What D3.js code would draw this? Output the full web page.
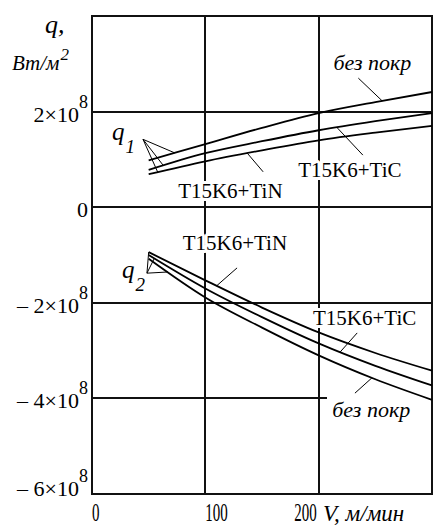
<!DOCTYPE html>
<html>
<head>
<script src="https://cdn.jsdelivr.net/npm/d3@7"></script>
</head>
<body style="margin:0">
<script>
// cutting speed V, m/min
const speeds = [50, 100, 150, 200, 250, 300];

// heat flux q, in units of 10^8 W/m^2
const q1BezPokr = [0.98, 1.32, 1.66, 1.97, 2.20, 2.41];
const q1TiC     = [0.78, 1.13, 1.38, 1.61, 1.80, 1.97];
const q1TiN     = [0.69, 0.96, 1.19, 1.40, 1.56, 1.70];

const q2TiN     = [-0.94, -1.53, -2.10, -2.62, -3.05, -3.42];
const q2TiC     = [-1.00, -1.70, -2.30, -2.85, -3.32, -3.73];
const q2BezPokr = [-1.08, -1.89, -2.52, -3.10, -3.60, -4.03];

const xTicks = [0, 100, 200];
const yTicks = [2, 0, -2, -4, -6];
const yTickText = ["2×10", "0", "– 2×10", "– 4×10", "– 6×10"];

const FONT = "'Liberation Serif'";

function drawChart() {
    const width = 439;
    const height = 527;

    const x = d3.scaleLinear().domain([0, 300]).range([92, 432]);
    const y = d3.scaleLinear().domain([-6, 4]).range([494, 16]);

    const svg = d3.select("body").append("svg")
        .attr("width", width)
        .attr("height", height);

    const grid = g => g.attr("stroke", "#111").attr("stroke-width", 2).attr("shape-rendering", "crispEdges");
    const thin = g => g.attr("stroke", "#000").attr("stroke-width", 1);

    // grid
    svg.selectAll(".vgrid")
        .data([100, 200])
        .join("line")
        .call(grid)
        .attr("x1", d => x(d)).attr("x2", d => x(d))
        .attr("y1", y(4)).attr("y2", y(-6));

    svg.selectAll(".hgrid")
        .data([2, 0, -2, -4])
        .join("line")
        .call(grid)
        .attr("x1", x(0))
        .attr("x2", d => d === -4 ? x(207) : x(300))   // stops short of the label
        .attr("y1", d => y(d)).attr("y2", d => y(d));

    svg.append("rect")
        .call(grid)
        .attr("fill", "none")
        .attr("x", x(0)).attr("y", y(4))
        .attr("width", x(300) - x(0))
        .attr("height", y(-6) - y(4));

    // curves
    const line = d3.line()
        .x((d, i) => x(speeds[i]))
        .y(d => y(d))
        .curve(d3.curveMonotoneX);

    const series = [q1BezPokr, q1TiC, q1TiN, q2TiN, q2TiC, q2BezPokr];
    svg.selectAll(".curve")
        .data(series)
        .join("path")
        .attr("fill", "none")
        .attr("stroke", "#000")
        .attr("stroke-width", 1.8)
        .attr("d", line);

    const at = (arr, v) => d3.scaleLinear().domain(speeds).range(arr)(v);

    // curve labels with leaders
    const labels = [
        {text: "без покр",  italic: true,  v: 213, q: 2.87,  lv: 235, lq: 2.70,  tv: 256, arr: q1BezPokr},
        {text: "T15K6+TiC", italic: false, v: 182, q: 0.63,  lv: 239, lq: 1.09,  tv: 216, arr: q1TiC},
        {text: "T15K6+TiN", italic: false, v: 76,  q: 0.19,  lv: 151, lq: 0.74,  tv: 137, arr: q1TiN},
        {text: "T15K6+TiN", italic: false, v: 80,  q: -0.90, lv: 128, lq: -1.27, tv: 110, arr: q2TiN},
        {text: "T15K6+TiC", italic: false, v: 195, q: -2.46, lv: 234, lq: -2.63, tv: 219, arr: q2TiC},
        {text: "без покр",  italic: true,  v: 212, q: -4.39, lv: 232, lq: -3.89, tv: 247, arr: q2BezPokr}
    ];

    svg.selectAll(".leader")
        .data(labels)
        .join("line")
        .call(thin)
        .attr("x1", d => x(d.lv)).attr("y1", d => y(d.lq))
        .attr("x2", d => x(d.tv)).attr("y2", d => y(at(d.arr, d.tv)));

    svg.selectAll(".lbl")
        .data(labels)
        .join("text")
        .attr("font-family", FONT)
        .attr("x", d => x(d.v))
        .attr("y", d => y(d.q))
        .attr("font-size", d => d.italic ? 22 : 21)
        .attr("font-style", d => d.italic ? "italic" : "normal")
        .attr("paint-order", "stroke")
        .attr("stroke", "#fff")
        .attr("stroke-width", 6)
        .attr("stroke-linejoin", "round")
        .text(d => d.text);

    // q1 / q2 pointers
    const pointers = [
        {tip: [45, 1.42], ends: [[73, q1BezPokr], [63, q1TiC], [58, q1TiN]]},
        {tip: [48.5, -1.38], ends: [[50, q2TiN], [55, q2TiC], [67, q2BezPokr]]}
    ];
    pointers.forEach(p => {
        svg.append("g").selectAll("line")
            .data(p.ends)
            .join("line")
            .call(thin)
            .attr("x1", x(p.tip[0])).attr("y1", y(p.tip[1]))
            .attr("x2", d => x(d[0])).attr("y2", d => y(at(d[1], d[0])));
    });

    const qLabel = (v, q, sub) => {
        const t = svg.append("text")
            .attr("font-family", FONT)
            .attr("x", x(v)).attr("y", y(q))
            .attr("font-size", 25)
            .attr("font-style", "italic");
        t.append("tspan").text("q");
        t.append("tspan").attr("font-size", 19).attr("dx", 1).attr("dy", 13).text(sub);
    };
    qLabel(17.6, 1.40, "1");
    qLabel(26.5, -1.48, "2");

    // y tick labels
    svg.selectAll(".ytick")
        .data(yTicks)
        .join("text")
        .attr("font-family", FONT)
        .attr("x", 88)
        .attr("y", d => y(d) + (d === -6 ? 2 : 10))
        .attr("text-anchor", "end")
        .attr("font-size", 22)
        .each(function(d, i) {
            const t = d3.select(this);
            t.append("tspan").text(yTickText[i]);
            if (d !== 0) t.append("tspan").attr("font-size", 18).attr("dy", -14).text("8");
        });

    // x tick labels (narrow digits)
    svg.selectAll(".xtick")
        .data(xTicks)
        .join("text")
        .attr("font-family", FONT)
        .attr("transform", d => `translate(${d === 200 ? x(d) - 2 : x(d)}, 521) scale(0.6, 1)`)
        .attr("text-anchor", d => d === 200 ? "end" : "start")
        .attr("font-size", 25)
        .text(d => d);

    // axis titles
    svg.append("text")
        .attr("font-family", FONT)
        .attr("x", 323).attr("y", 521)
        .attr("font-size", 23)
        .attr("font-style", "italic")
        .text("V, м/мин");

    svg.append("text")
        .attr("font-family", FONT)
        .attr("x", 45).attr("y", 33)
        .attr("font-size", 26)
        .attr("font-style", "italic")
        .text("q,");

    const unit = svg.append("text")
        .attr("font-family", FONT)
        .attr("x", 12).attr("y", 70)
        .attr("font-size", 21)
        .attr("font-style", "italic");
    unit.append("tspan").text("Вт/м");
    unit.append("tspan").attr("font-size", 17).attr("dx", 1).attr("dy", -10).text("2");
}

drawChart();
</script>
</body>
</html>
